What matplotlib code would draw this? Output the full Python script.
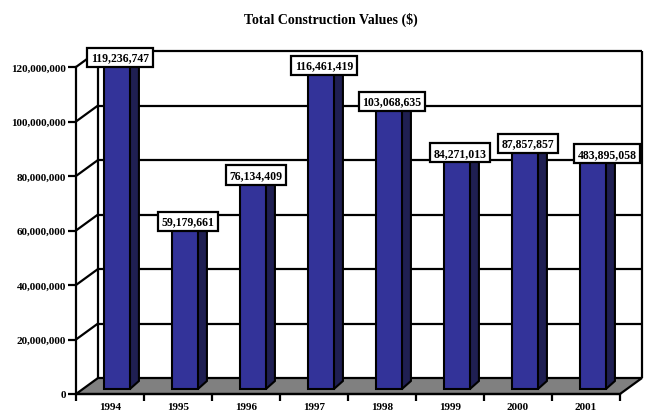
import matplotlib
matplotlib.use("Agg")
import matplotlib.pyplot as plt
import matplotlib.transforms as mtransforms
from matplotlib.patches import Polygon
from matplotlib.lines import Line2D
import numpy as np

years = ["1994", "1995", "1996", "1997", "1998", "1999", "2000", "2001"]
values = [119236747, 59179661, 76134409, 116461419, 103068635, 84271013, 87857857, 83895058]
labels = ["119,236,747", "59,179,661", "76,134,409", "116,461,419",
          "103,068,635", "84,271,013", "87,857,857", "483,895,058"]
yticks = [0, 20000000, 40000000, 60000000, 80000000, 100000000, 120000000]
ytick_labels = ["0", "20,000,000", "40,000,000", "60,000,000", "80,000,000",
                "100,000,000", "120,000,000"]

plt.rcParams["font.family"] = ["Liberation Serif", "DejaVu Serif"]
plt.rcParams["font.weight"] = "bold"

W, H = 645, 414
fig = plt.figure(figsize=(W / 100, H / 100), dpi=100)
ax = fig.add_axes([76 / W, (H - 395) / H, 544 / W, 327 / H])
ax.set_xlim(0, len(years))
ax.set_ylim(0, 120000000)

# depth offsets in pixels (x right, y up)
back = (22, 16)
bar_front = (7, 5)
bar_depth = (9, 8)

def px(dx, dy):
    return mtransforms.ScaledTranslation(dx / 100, dy / 100, fig.dpi_scale_trans)

ident = mtransforms.IdentityTransform()

def disp(x, y):
    return ax.transData.transform((x, y))

n = len(years)

# back wall grid
back_tr = ax.transData + px(*back)
ax.hlines(yticks[1:], 0, n, colors="black", lw=1.6, transform=back_tr, zorder=1,
          clip_on=False)
ax.vlines([0, n], 0, yticks[-1], colors="black", lw=1.6, transform=back_tr, zorder=1,
          clip_on=False)

# side-wall diagonals from the front axis to the back wall
for v in yticks[1:]:
    p = disp(0, v)
    ax.add_line(Line2D([p[0], p[0] + back[0]], [p[1], p[1] + back[1]],
                       color="black", lw=1.6, transform=ident, zorder=1, clip_on=False))

# floor
f0, f1 = disp(0, 0), disp(n, 0)
floor = [f0, f1, f1 + back, f0 + back]
ax.add_patch(Polygon(floor, closed=True, facecolor="#808080", edgecolor="black",
                     lw=1.6, transform=ident, zorder=2, clip_on=False))

# bars
width = 0.38
for i, v in enumerate(values):
    xl = i + 0.5 - width / 2
    xr = i + 0.5 + width / 2
    bl = disp(xl, 0) + bar_front
    br = disp(xr, 0) + bar_front
    tl = disp(xl, v) + bar_front
    tr = disp(xr, v) + bar_front
    side = [br, tr, tr + bar_depth, br + bar_depth]
    top = [tl, tr, tr + bar_depth, tl + bar_depth]
    front = [bl, br, tr, tl]
    for pts, col in [(side, "#1f1f52"), (top, "#28287a"), (front, "#333399")]:
        ax.add_patch(Polygon(pts, closed=True, facecolor=col, edgecolor="black",
                             lw=1.5, transform=ident, zorder=3, clip_on=False))

# value labels
for i, (v, lab) in enumerate(zip(values, labels)):
    dx = 10 if i < n - 1 else 21
    ax.text(i + 0.5, v, lab, transform=ax.transData + px(dx, 11.5),
            ha="center", va="center", fontsize=8.5, fontweight="bold", zorder=5,
            clip_on=False,
            bbox=dict(boxstyle="square,pad=0.3", facecolor="white",
                      edgecolor="black", lw=1.6))

# axes
for s in ["top", "right"]:
    ax.spines[s].set_visible(False)
ax.spines["left"].set_linewidth(1.6)
ax.spines["bottom"].set_linewidth(1.6)
ax.spines["left"].set_zorder(4)
ax.spines["bottom"].set_zorder(4)
ax.set_facecolor("none")

ax.set_yticks(yticks)
ax.set_yticklabels(ytick_labels)
ax.tick_params(axis="y", direction="out", length=6, width=1.6, pad=1, labelsize=8)

ax.set_xticks(np.arange(n + 1))
ax.set_xticklabels([""] * (n + 1))
ax.set_xticks(np.arange(n) + 0.5, minor=True)
ax.set_xticklabels(years, minor=True)
ax.tick_params(axis="x", which="major", direction="out", length=5, width=1.6)
ax.tick_params(axis="x", which="minor", length=0, pad=6, labelsize=8)

fig.text(331 / W, 1 - 20 / H, "Total Construction Values ($)", ha="center", va="center",
         fontsize=10, fontweight="bold")

fig.savefig("out.png", dpi=100)
